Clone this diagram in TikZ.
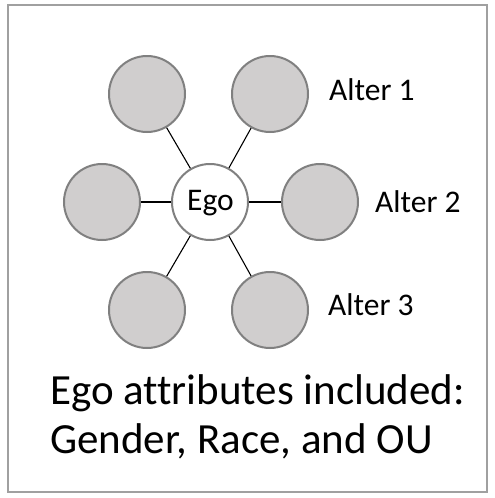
\documentclass[tikz,border=0pt]{standalone}
\usepackage{fontspec}
\setmainfont{Carlito}[Ligatures={NoCommon}]
\definecolor{altfill}{RGB}{208,206,206}
\definecolor{altline}{RGB}{128,128,128}
\definecolor{frameline}{RGB}{160,160,160}
\begin{document}
\begin{tikzpicture}[x=1pt,y=-1pt,
  alter/.style={circle,draw=altline,fill=altfill,line width=2pt,minimum size=76pt,inner sep=0pt},
  egonode/.style={circle,draw=altline,fill=white,line width=2pt,minimum size=76pt,inner sep=0pt},
  lbl/.style={anchor=base west,inner sep=0pt,font=\fontsize{31.5}{36}\selectfont},
  big/.style={anchor=base west,inner sep=0pt,font=\fontsize{43}{50}\selectfont},
  link/.style={black,line width=1.1pt}]
\useasboundingbox (0,0) rectangle (495,498);
\draw[frameline,line width=1.6pt] (8,5) rectangle (487,492);
\node[egonode] (ego) at (210,202) {};
\node[anchor=base,inner sep=0pt,font=\fontsize{31.5}{36}\selectfont] (egot) at (210.5,210.5) {Ego};
\node[alter] (a1) at (147,94) {};
\node[alter] (a2) at (270,94) {};
\node[alter] (a3) at (102,202) {};
\node[alter] (a4) at (320,202) {};
\node[alter] (a5) at (147,310) {};
\node[alter] (a6) at (270,310) {};
\foreach \n in {a1,a2,a3,a4,a5,a6} \draw[link] (ego) -- (\n);
\node[lbl] (l1) at (329,100.5) {Alter 1};
\node[lbl] (l2) at (375,212) {Alter 2};
\node[lbl] (l3) at (328,315) {Alter 3};
\node[big] (t1) at (50,404) {Ego attributes included:};
\node[big] (t2) at (50,453) {Gender, Race, and OU};
\end{tikzpicture}
\end{document}
